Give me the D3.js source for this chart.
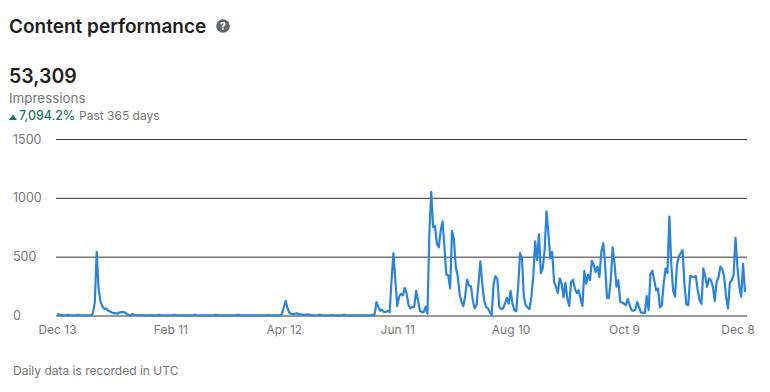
<!DOCTYPE html>
<html><head><meta charset="utf-8">
<script src="https://cdnjs.cloudflare.com/ajax/libs/d3/7.8.5/d3.min.js"></script>
<style>html,body{margin:0;background:#fff}svg{display:block}text{font-family:Inter,"Noto Sans",sans-serif}</style>
</head><body><svg id="c" width="770" height="392"></svg>
<script>
const winterValues=[10,8,5,3,2,3,5,2,1,2, 3,6,3,2,1,2,1,2,3,20, 110,540,230,120,80,55,60,40,35,25, 20,20,15,25,28,28,25,10,5,4, 12,5,2,3,2];
const quietValues=[3,2,1,1,2,4,2,1,2,5, 3,2,1,2,1,2,1,6,4,2, 1,1,2,1,2,1,1,3,6,2, 1,1,2,1,1,1,2,1,1,5, 3,1,1,2,1,1,1,1,1,2, 4,5,2,1,1,1,1,1,2,1, 1,1,2,1,1,1,1,3,1,1, 1,2,1,2];
const aprilValues=[10,70,125,60,20,15,10,15,18,12];
const mayValues=[10,8,5,7,9,5,3,2,2,3, 5,3,2,1,1,2,4,3,2,1, 1,1,2,6,3,2,1,1,2,1, 1,1,2,1,1,2,1,2,5];
const summerValues=[5,113,73,40,50,28,30,40,28,300, 530,300,80,160,185,170,235,185,90,60, 73,73,210,130,40,28,28,73,15,690, 1050,750,760,610,580,720,800,580,350,340, 230,720,650,410,340,185,115,80,170,305, 255,250,130,60,90,270,460,270,130,73, 60,30,5,270,335,310,74,54,60,100, 150,100,210,100,45,37,245,530,485,160, 88,68,54,160,330,630,470,690,360,400];
const autumnValues=[555,885,700,485,540,285,245,190,315,270, 155,280,145,80,285,305,230,190,215,145, 80,380,270,345,300,465,430,370,415,325, 540,615,440,150,150,300,580,440,245,300, 115,110,100,88,140,88,45,40,50,115, 68,25,25,20,165,45,350,380,300,215, 230,68,88,270,400,360,840,440,210,160, 430,500,530,555,260,95,88,335,330,325, 335,215,130,100,400,330,245,315,300,245, 125,285,325,415,395,330,160,60,280,300, 345,660,415,245,160,440,200];
const impressions=[...winterValues,...quietValues,...aprilValues,...mayValues,...summerValues,...autumnValues];
const yTicks=[0,500,1000,1500];
const xTickDays=[0,60,120,180,240,300,360];
const xTickLabels=["Dec 13","Feb 11","Apr 12","Jun 11","Aug 10","Oct 9","Dec 8"];

const svg=d3.select("#c");
const x=d3.scaleLinear().domain([0,360]).range([57,737.4]);
const y=d3.scaleLinear().domain([0,1500]).range([315.5,139]);
const T=(xp,yp,s,size,fill,weight,anchor)=>svg.append("text").attr("x",xp).attr("y",yp).text(s)
  .attr("font-size",size).attr("fill",fill).attr("font-weight",weight||400).attr("text-anchor",anchor||"start");

T(9,33,"Content performance",19,"#1f1f1f",600);
svg.append("circle").attr("cx",223).attr("cy",26).attr("r",6.8).attr("fill","#666");
T(223,29.5,"?",10,"#fff",800,"middle");
T(9,83,"53,309",19.5,"#1f1f1f",600);
T(9,103,"Impressions",13.4,"#777");
svg.append("path").attr("d","M9 120L13 114.5L17 120Z").attr("fill","#0b7a55");
T(19,120,"7,094.2%",12.4,"#1f7a5c",500);
T(79,120,"Past 365 days",12,"#777");

const yAxis=d3.axisLeft(y).tickValues(yTicks).tickSize(-691).tickPadding(15).tickFormat(d3.format("d"));
const gy=svg.append("g").attr("transform","translate(56,0)").call(yAxis);
gy.select(".domain").remove();
gy.selectAll("line").attr("stroke","#333").attr("stroke-width",1);
gy.selectAll("text").attr("font-size",12.5).attr("fill","#777").attr("font-family",'Inter,"Noto Sans",sans-serif')
  .attr("text-anchor","start").attr("x",-43);

const xAxis=d3.axisBottom(x).tickValues(xTickDays).tickSize(0).tickPadding(0).tickFormat((d,i)=>xTickLabels[i]);
const gx=svg.append("g").attr("transform","translate(0,324)").call(xAxis);
gx.select(".domain").remove();
gx.selectAll("text").attr("font-size",12).attr("fill","#777").attr("font-family",'Inter,"Noto Sans",sans-serif').attr("dy","0.85em");

svg.append("path").datum(impressions).attr("fill","none").attr("stroke","#2a84dc").attr("stroke-width",2.2)
  .attr("stroke-linejoin","round")
  .attr("d",d3.line().x((d,i)=>x(i)).y(d=>y(d)));

T(13,375,"Daily data is recorded in UTC",12,"#777");
</script></body></html>
